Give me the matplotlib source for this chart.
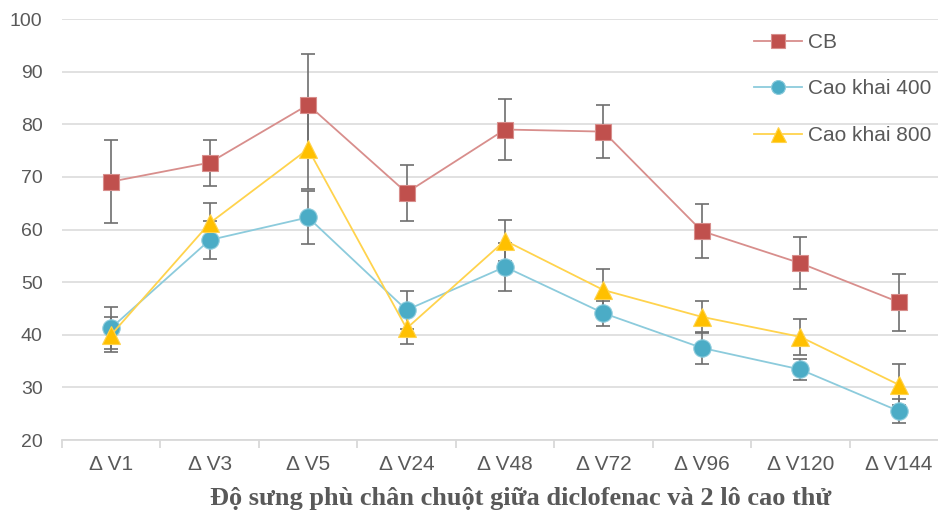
import matplotlib
matplotlib.use("Agg")
import matplotlib.pyplot as plt
import numpy as np

# Dữ liệu
nhom = ['Δ V1', 'Δ V3', 'Δ V5', 'Δ V24', 'Δ V48', 'Δ V72', 'Δ V96', 'Δ V120', 'Δ V144']

cb = [69.1, 72.7, 83.7, 67.0, 79.0, 78.6, 59.7, 53.6, 46.2]
cb_err = [7.9, 4.4, 9.7, 5.3, 5.8, 5.0, 5.2, 5.0, 5.4]

cao400 = [41.3, 58.0, 62.3, 44.7, 52.9, 44.1, 37.5, 33.4, 25.5]
cao400_err = [4.0, 3.6, 5.0, 3.6, 4.5, 2.4, 3.0, 2.0, 2.2]

cao800 = [40.0, 61.2, 75.3, 41.2, 57.9, 48.5, 43.4, 39.6, 30.5]
cao800_err = [3.3, 3.8, 7.6, 3.0, 3.9, 3.9, 3.0, 3.4, 3.9]

series = [
    ('CB', cb, cb_err, '#C0504D', '#D88E8C', 's', 12),
    ('Cao khai 400', cao400, cao400_err, '#4BACC6', '#8CCBDC', 'o', 12.5),
    ('Cao khai 800', cao800, cao800_err, '#FFC000', '#FFD34D', '^', 13.5),
]

text_color = '#595959'
grid_color = '#D9D9D9'
plt.rcParams['font.family'] = ['Liberation Sans', 'DejaVu Sans']

fig = plt.figure(figsize=(9.38, 5.11), dpi=100)
ax = fig.add_axes([62 / 938, 71 / 511, 886 / 938, (440 - 19) / 511])

x = np.arange(len(nhom))
for ten, y, e, mau, mau_nhat, mk, ms in series:
    ax.errorbar(x, y, yerr=e, fmt='none', ecolor='#6E6E6E', elinewidth=1.2,
                capsize=5, capthick=1.2, zorder=2)
    ax.plot(x, y, color=mau_nhat, linewidth=1.3, marker=mk, markersize=ms,
            markerfacecolor=mau, markeredgecolor=mau_nhat, markeredgewidth=0.8,
            label=ten, zorder=3)

ax.set_xlim(-0.5, len(nhom) - 0.5)
ax.set_ylim(20, 100)
ax.set_yticks(np.arange(20, 101, 10))
ax.yaxis.grid(True, color=grid_color, linewidth=1.1)
ax.set_axisbelow(True)

for s in ['left', 'right', 'top']:
    ax.spines[s].set_visible(False)
ax.spines['bottom'].set_color(grid_color)
ax.spines['bottom'].set_linewidth(1.3)

ax.set_xticks(np.arange(len(nhom) + 1) - 0.5)
ax.set_xticklabels([])
ax.tick_params(axis='x', which='major', length=6, color=grid_color, width=1.3)
ax.set_xticks(x, minor=True)
ax.set_xticklabels(nhom, minor=True)
ax.tick_params(axis='x', which='minor', length=0, pad=11, labelsize=15, labelcolor=text_color)
ax.tick_params(axis='y', length=0, pad=14, labelsize=14, labelcolor=text_color)

fig.legend(loc='upper left', bbox_to_anchor=(754 / 938, 1 - 33 / 511), frameon=False,
           fontsize=15, labelcolor=text_color, handlelength=2.3, handletextpad=0.3,
           labelspacing=1.32, borderpad=0, borderaxespad=0, markerscale=0.8)

fig.text(521 / 938, 1 - 505 / 511, 'Độ sưng phù chân chuột giữa diclofenac và 2 lô cao thử',
         ha='center', va='baseline', fontsize=19, fontweight='bold',
         family=['Liberation Serif', 'DejaVu Serif'], color=text_color)

fig.savefig('out.png', dpi=100)
